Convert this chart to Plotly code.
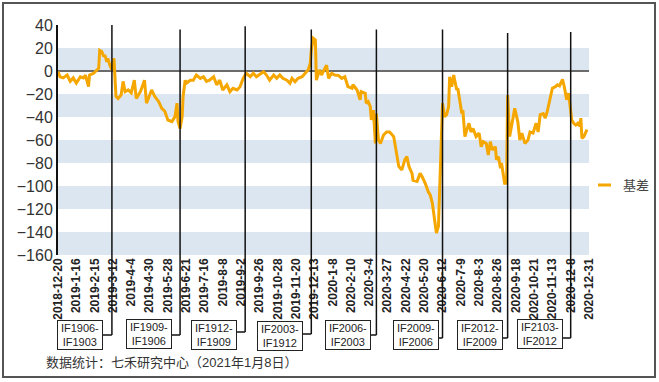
import plotly.graph_objects as go

# ---------------- data ----------------
day_idx = [0, 2, 5, 9, 12, 15, 18, 22, 25, 27, 30, 31, 35, 38, 40, 41, 43, 45, 46, 48, 49, 51, 53, 55,
           57, 59, 62, 64, 66, 69, 72, 75, 77, 81, 83, 85, 87, 89, 90, 92, 95, 99, 102, 105, 108, 112,
           115, 117, 118, 120, 122, 123, 125, 126, 130, 133, 136, 140, 143, 146, 149, 153, 156, 159,
           162, 166, 169, 172, 176, 179, 182, 185, 189, 192, 195, 199, 202, 205, 208, 212, 215, 218,
           221, 225, 228, 230, 233, 236, 240, 243, 246, 248, 249, 251, 253, 254, 257, 259, 261, 264,
           266, 269, 272, 276, 279, 282, 285, 289, 290, 294, 297, 298, 302, 303, 305, 307, 308, 310,
           311, 312, 313, 315, 317, 320, 323, 326, 330, 331, 333, 335, 338, 341, 343, 345, 348, 349,
           353, 356, 358, 361, 364, 366, 368, 370, 372, 374, 375, 377, 378, 380, 382, 384, 385, 387,
           389, 390, 392, 393, 395, 397, 398, 400, 402, 404, 406, 408, 411, 414, 416, 418, 421, 423,
           425, 427, 430, 431, 433, 435, 436, 438, 439, 441, 442, 444, 447, 449, 452, 454, 456, 459,
           462, 464, 467, 470, 472, 474, 477, 479, 481, 484, 486, 489, 491, 493, 496, 498, 500, 502,
           504, 505, 507, 509, 511, 513, 514, 515, 517, 520]
basis = [-0.5, -5, -6, -3.5, -9, -6, -10.5, -5, -6, -3.5, -13.6, -3.5, -2, 1, 2.3, 18, 17, 12.5, 14, 8, 11, 5, 1, 11,
         -22, -24, -21, -9, -18, -16.5, -19, -8, -24, -18, -13.6, -8, -28, -24, -22, -16.5, -22, -26.7, -32.5, -35, -42.6, -44,
         -39.7, -28, -44, -50, -40, -22, -8, -10.7, -8, -8, -3.5, -6.4, -5, -9, -8, -5, -12, -8,
         -16.5, -12, -18, -15, -16.5, -13.6, -6.4, -2, -5, -2, -5, -2, -0.6, -3.5, -8, -3.5, -6.4, -3.5,
         -6.4, -8, -10.7, -6.4, -9.3, -6.4, -5, -2, 1, 6.7, 18, 28.4, 27, -8, 1, -3.5, -0.6, 5,
         -6.4, -2, -3.5, -4, -6.4, -5, -13.6, -15, -12, -16.5, -25, -18, -19.4, -28, -26.7, -31, -42.6, -34,
         -48, -63, -37, -60, -63, -55.7, -53, -53, -57, -63, -71.6, -83, -86, -77, -74.5, -83, -89, -95,
         -96, -89, -92, -97.6, -105, -108, -115, -128, -141, -135, -106, -63, -28, -39.7, -38, -31, -5, -13.6,
         -3.5, -8, -16.5, -15, -28, -37, -34, -57, -51, -45.5, -53, -50, -57, -54, -65.8, -61.5, -63, -73,
         -61.5, -68.7, -65.8, -77, -74.5, -84.6, -80, -93, -97.6, -97.6, -21, -57, -44, -32.5, -44, -60, -54, -63,
         -60, -53, -54, -45.5, -53, -38, -37, -41, -35, -21, -15, -13.6, -12, -13, -7.2, -15, -25, -19.4,
         -34, -42.6, -45.5, -47, -45.5, -48, -41, -58.5, -57, -51]

tick_labels = ["2018-12-20", "2019-1-16", "2019-2-15", "2019-3-12", "2019-4-4", "2019-4-30",
               "2019-5-28", "2019-6-21", "2019-7-16", "2019-8-8", "2019-9-2", "2019-9-26",
               "2019-10-28", "2019-11-20", "2019-12-13", "2020-1-8", "2020-2-10", "2020-3-4",
               "2020-3-27", "2020-4-22", "2020-5-20", "2020-6-12", "2020-7-9", "2020-8-3",
               "2020-8-26", "2020-9-18", "2020-10-21", "2020-11-13", "2020-12-8", "2020-12-31"]
tick_step = 18

roll_idx = [53, 120, 184, 249, 313, 378, 442, 504]
roll_top = [40, 36, 39, 36, 36, 36, 33, 34]
spread_labels = ["IF1906-<br>IF1903", "IF1909-<br>IF1906", "IF1912-<br>IF1909", "IF2003-<br>IF1912",
                 "IF2006-<br>IF2003", "IF2009-<br>IF2006", "IF2012-<br>IF2009", "IF2103-<br>IF2012"]

series_name = "基差"
source_text = "数据统计：七禾研究中心（2021年1月8日）"

# ---------------- layout helpers ----------------
W, H = 659, 382
L, R, T, B = 58, 70, 25, 127
X_MAX = tick_step * (len(tick_labels) - 1)
Y_MIN, Y_MAX = -160, 40
ORANGE = "#F5A700"
FONT = "Arial, 'Liberation Sans', 'Noto Sans CJK SC', sans-serif"


def px(x):
    return (x - L) / (W - L - R)


def py(y):
    return (H - B - y) / (H - T - B)


def xv(i):
    return i / X_MAX


def yv(v):
    return (v - Y_MIN) / (Y_MAX - Y_MIN)


# box centre (pixels) and connector height (pixels) for the spread labels
box_cx = [80, 148.5, 214, 280, 348, 415.5, 479.5, 539.5]
box_cy = [334.5, 334, 334.5, 336, 335, 335, 335, 334]
conn_y = [335, 335, 332, 334, 335, 338, 338, 338]
BOX_HALF_W = 23

fig = go.Figure()
fig.add_trace(go.Scatter(
    x=day_idx, y=basis, mode="lines", name=series_name,
    line=dict(color=ORANGE, width=3), showlegend=False, hoverinfo="skip",
))

shapes = []
# alternating bands
for lo in range(Y_MIN, Y_MAX, 40):
    shapes.append(dict(type="rect", xref="x", yref="y", x0=0, x1=X_MAX, y0=lo, y1=lo + 20,
                       fillcolor="#DCE6F1", line=dict(width=0), layer="below"))

# roll lines and connectors
for i, (ri, top) in enumerate(zip(roll_idx, roll_top)):
    shapes.append(dict(type="line", xref="paper", yref="paper", x0=xv(ri), x1=xv(ri),
                       y0=yv(top), y1=py(conn_y[i]), line=dict(color="#111111", width=1.5)))
    shapes.append(dict(type="line", xref="paper", yref="paper", x0=px(box_cx[i] + BOX_HALF_W),
                       x1=xv(ri), y0=py(conn_y[i]), y1=py(conn_y[i]),
                       line=dict(color="#111111", width=1.5)))

# legend sample
shapes.append(dict(type="line", xref="paper", yref="paper", x0=px(598), x1=px(611),
                   y0=py(185), y1=py(185), line=dict(color=ORANGE, width=3)))
# outer frame
shapes.append(dict(type="rect", xref="paper", yref="paper", x0=px(3), x1=px(655),
                   y0=py(377), y1=py(3), line=dict(color="#555555", width=2)))

annotations = []
for i, lab in enumerate(spread_labels):
    annotations.append(dict(text=lab, xref="paper", yref="paper", x=px(box_cx[i]), y=py(box_cy[i]),
                            xanchor="center", yanchor="middle", showarrow=False,
                            width=42, height=26,
                            font=dict(family=FONT, size=11, color="#222222"),
                            bgcolor="white", bordercolor="#222222", borderwidth=1, borderpad=1,
                            align="center", valign="middle"))
annotations.append(dict(text=series_name, xref="paper", yref="paper", x=px(621), y=py(185),
                        xanchor="left", yanchor="middle", showarrow=False,
                        font=dict(family=FONT, size=13, color="#444444")))
annotations.append(dict(text=source_text, xref="paper", yref="paper", x=px(44), y=py(362),
                        xanchor="left", yanchor="middle", showarrow=False,
                        font=dict(family=FONT, size=13, color="#333333")))

fig.update_layout(
    width=W, height=H,
    margin=dict(l=L, r=R, t=T, b=B, pad=0),
    paper_bgcolor="white", plot_bgcolor="white",
    font=dict(family=FONT),
    shapes=shapes, annotations=annotations,
    showlegend=False,
    xaxis=dict(range=[0, X_MAX], tickmode="array",
               tickvals=[i * tick_step for i in range(len(tick_labels))], ticktext=tick_labels,
               tickangle=-90, ticks="", showgrid=False, zeroline=False, showline=False,
               tickfont=dict(family=FONT, size=12, color="#222222", weight="bold"),
               automargin=False),
    yaxis=dict(range=[Y_MIN, Y_MAX], tickmode="array", tickvals=list(range(Y_MIN, Y_MAX + 1, 20)),
               ticks="", showgrid=False, zeroline=True, zerolinecolor="#6b6b6b", zerolinewidth=1.5,
               showline=True, linecolor="#111111", linewidth=2,
               tickfont=dict(family=FONT, size=16, color="#333333"), automargin=False),
)

fig.write_html("out.html", config={"displayModeBar": False, "staticPlot": True},
               post_script="document.body.style.margin='0';document.body.style.overflow='hidden';")
